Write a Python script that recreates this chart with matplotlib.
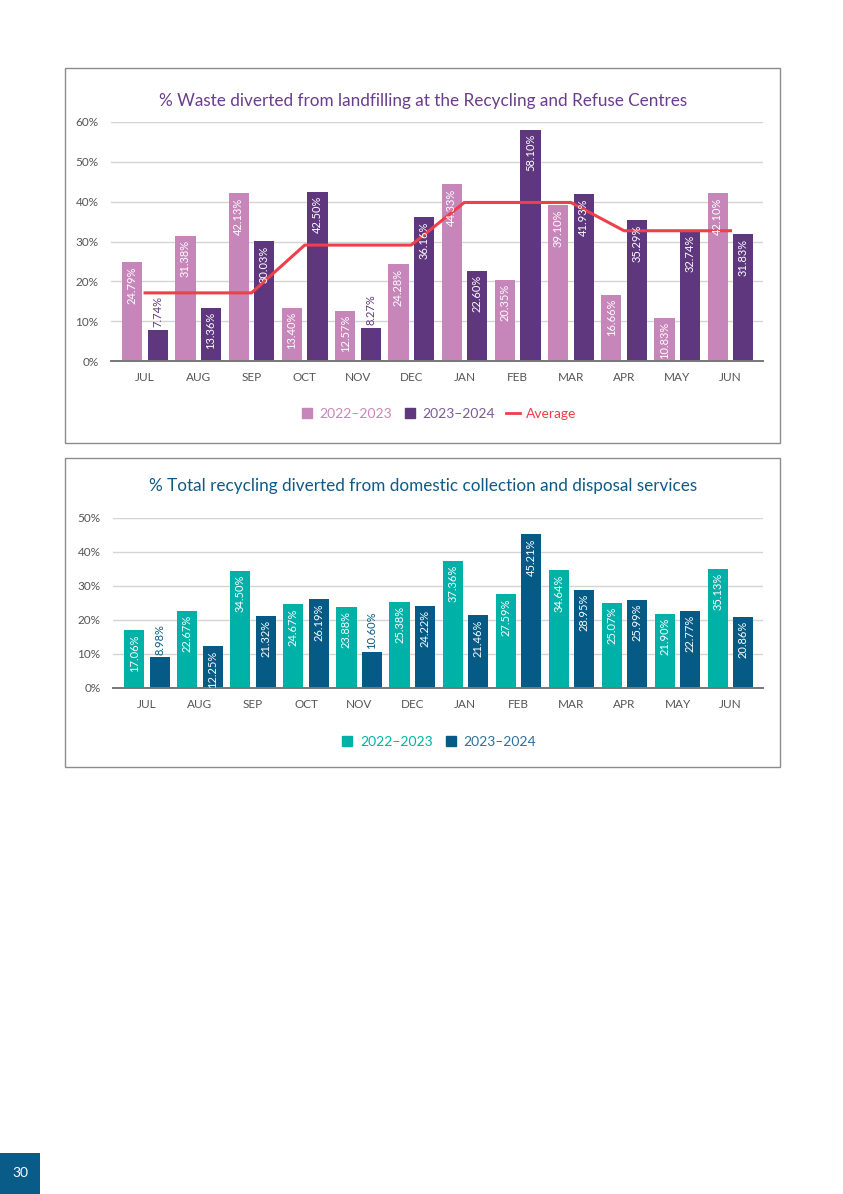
import matplotlib
matplotlib.use('Agg')
import matplotlib.pyplot as plt
from matplotlib.patches import Rectangle
from matplotlib.lines import Line2D
import numpy as np

plt.rcParams['font.family'] = ['Lato', 'DejaVu Sans']

# ---------------- data ----------------
months = ['JUL', 'AUG', 'SEP', 'OCT', 'NOV', 'DEC', 'JAN', 'FEB', 'MAR', 'APR', 'MAY', 'JUN']

# chart 1 - waste diverted at recycling and refuse centres
rrc_2022 = [24.79, 31.38, 42.13, 13.40, 12.57, 24.28, 44.33, 20.35, 39.10, 16.66, 10.83, 42.10]
rrc_2023 = [7.74, 13.36, 30.03, 42.50, 8.27, 36.16, 22.60, 58.10, 41.93, 35.29, 32.74, 31.83]
rrc_average = [17.1, 17.1, 17.1, 29.1, 29.1, 29.1, 39.8, 39.8, 39.8, 32.7, 32.7, 32.7]

# chart 2 - total recycling from domestic collection
dom_2022 = [17.06, 22.67, 34.50, 24.67, 23.88, 25.38, 37.36, 27.59, 34.64, 25.07, 21.90, 35.13]
dom_2023 = [8.98, 12.25, 21.32, 26.19, 10.60, 24.22, 21.46, 45.21, 28.95, 25.99, 22.77, 20.86]

# colours
pink = '#c786ba'
purple = '#5f377f'
red = '#ee3f4a'
teal = '#00b1a8'
navy = '#055a86'
grey_text = '#555555'

W, H = 843, 1194
fig = plt.figure(figsize=(W / 100, H / 100), dpi=100)


def px_rect(x0, y0, x1, y1):
    # pixel box (top-left origin) -> figure fraction [left, bottom, width, height]
    return [x0 / W, 1 - y1 / H, (x1 - x0) / W, (y1 - y0) / H]


def frame(x0, y0, x1, y1):
    fig.patches.append(Rectangle((x0 / W, 1 - y1 / H), (x1 - x0) / W, (y1 - y0) / H,
                                 transform=fig.transFigure, fill=False,
                                 edgecolor='#8c8c8c', linewidth=1))


def bar_chart(ax, a, b, col_a, col_b, ymax, inside_min):
    x = np.arange(len(months))
    w = 0.38
    off = 0.24
    ax.set_axisbelow(True)
    ax.yaxis.grid(True, color='#d4d4d4', linewidth=1)
    for vals, col, sh in [(a, col_a, -off), (b, col_b, off)]:
        bars = ax.bar(x + sh, vals, width=w, color=col, zorder=2)
        for bar, v in zip(bars, vals):
            cx = bar.get_x() + bar.get_width() / 2
            txt = f'{v:.2f}%'
            if v >= inside_min:
                ax.annotate(txt, (cx, v), xytext=(0, -3), textcoords='offset points',
                            rotation=90, ha='center', va='top', color='white',
                            fontsize=8, zorder=4)
            else:
                ax.annotate(txt, (cx, v), xytext=(0, 2), textcoords='offset points',
                            rotation=90, ha='center', va='bottom', color=col,
                            fontsize=8, zorder=4)
    ax.set_xlim(-0.64, 11.61)
    ax.set_ylim(0, ymax)
    ax.set_yticks(range(0, ymax + 1, 10))
    ax.set_yticklabels([f'{t}%' for t in range(0, ymax + 1, 10)])
    ax.set_xticks(x)
    ax.set_xticklabels(months)
    ax.tick_params(axis='both', length=0, labelsize=8.5, labelcolor=grey_text)
    ax.tick_params(axis='y', pad=9)
    ax.tick_params(axis='x', pad=8)
    for s in ['top', 'right', 'left']:
        ax.spines[s].set_visible(False)
    ax.spines['bottom'].set_color('#777777')
    ax.spines['bottom'].set_linewidth(1.4)
    ax.spines['bottom'].set_zorder(3)
    return x


# ================= chart 1 =================
frame(65, 68, 780, 443)
ax1 = fig.add_axes(px_rect(111, 122, 763, 361))
x = bar_chart(ax1, rrc_2022, rrc_2023, pink, purple, 60, 10)
ax1.plot(x, rrc_average, color=red, linewidth=2.2, zorder=3)
fig.text(423 / W, 1 - 101 / H, '% Waste diverted from landfilling at the Recycling and Refuse Centres',
         ha='center', va='center', fontsize=12.3, color='#6a3c8c')

handles1 = [Line2D([], [], marker='s', linestyle='none', color=pink, markersize=6.5),
            Line2D([], [], marker='s', linestyle='none', color=purple, markersize=6.5),
            Line2D([], [], color=red, linewidth=2)]
leg1 = fig.legend(handles1, ['2022–2023', '2023–2024', 'Average'], loc='center',
                  bbox_to_anchor=(438 / W, 1 - 414 / H), ncol=3, frameon=False,
                  fontsize=10, handlelength=1.0, handletextpad=0.4, columnspacing=0.8)
for t, c in zip(leg1.get_texts(), [pink, '#7b5a99', red]):
    t.set_color(c)

# ================= chart 2 =================
frame(65, 458, 780, 767)
ax2 = fig.add_axes(px_rect(113, 518, 763, 688))
bar_chart(ax2, dom_2022, dom_2023, teal, navy, 50, 11)
fig.text(423 / W, 1 - 486 / H, '% Total recycling diverted from domestic collection and disposal services',
         ha='center', va='center', fontsize=12.3, color='#0d5a86')

handles2 = [Line2D([], [], marker='s', linestyle='none', color=teal, markersize=6.5),
            Line2D([], [], marker='s', linestyle='none', color=navy, markersize=6.5)]
leg2 = fig.legend(handles2, ['2022–2023', '2023–2024'], loc='center',
                  bbox_to_anchor=(438 / W, 1 - 742 / H), ncol=2, frameon=False,
                  fontsize=10, handlelength=1.0, handletextpad=0.4, columnspacing=0.8)
for t, c in zip(leg2.get_texts(), [teal, '#2f6f98']):
    t.set_color(c)

# page number tab
fig.patches.append(Rectangle((0, 0), 40 / W, 41 / H, transform=fig.transFigure,
                             facecolor='#0a5c88', edgecolor='none'))
fig.text(20 / W, 1 - 1173 / H, '30', ha='center', va='center', fontsize=10, color='white')

fig.savefig('out.png', dpi=100)
